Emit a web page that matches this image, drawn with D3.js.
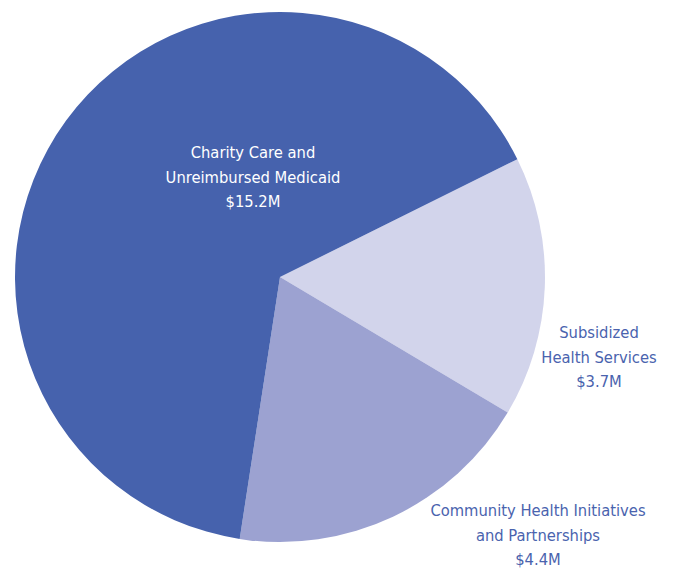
<!DOCTYPE html>
<html>
<head>
<meta charset="utf-8">
<script src="https://cdn.jsdelivr.net/npm/d3@7"></script>
<style>
  html, body { margin: 0; padding: 0; background: #fff; }
  svg { display: block; }
  .lbl { font-family: "Liberation Sans Narrow", "DejaVu Sans Condensed", "Roboto", sans-serif; font-size: 16.4px; }
</style>
</head>
<body>
<svg id="chart"></svg>
<script>
// Community benefit spending, millions of dollars
const categories = ['Subsidized Health Services', 'Community Health Initiatives and Partnerships', 'Charity Care and Unreimbursed Medicaid'];
const values = [3.7, 4.4, 15.2];
const labelLines = [
    ['Subsidized', 'Health Services'],
    ['Community Health Initiatives', 'and Partnerships'],
    ['Charity Care and', 'Unreimbursed Medicaid']
];
const valueLabels = ['$3.7M', '$4.4M', '$15.2M'];

const width = 673, height = 568;
const cx = 280, cy = 277, radius = 265;

const sliceColors = ['#d2d4eb', '#9ca2d1', '#4662ad'];
const textColors = ['#4a63ae', '#4a63ae', '#ffffff'];
// where each label block is centred (first baseline), relative to the pie centre
const labelPos = [[319, 61], [258, 239], [-27, -119]];

const svg = d3.select('#chart')
    .attr('width', width)
    .attr('height', height);

const g = svg.append('g')
    .attr('transform', `translate(${cx}, ${cy})`);

const data = categories.map((c, i) => ({ name: c, value: values[i], i: i }));

// first slice begins at about 63 degrees clockwise from 12 o'clock
const start = 63.6 * Math.PI / 180;
const pie = d3.pie()
    .sort(null)
    .value(d => d.value)
    .startAngle(start)
    .endAngle(start + 2 * Math.PI);

const arc = d3.arc()
    .innerRadius(0)
    .outerRadius(radius);

g.selectAll('path')
    .data(pie(data))
    .enter()
    .append('path')
    .attr('d', arc)
    .style('fill', d => sliceColors[d.data.i]);

// labels
data.forEach(d => {
    const lines = labelLines[d.i].concat([valueLabels[d.i]]);
    const t = g.append('text')
        .attr('class', 'lbl')
        .attr('text-anchor', 'middle')
        .style('fill', textColors[d.i]);
    lines.forEach((line, k) => {
        t.append('tspan')
            .attr('x', labelPos[d.i][0])
            .attr('y', labelPos[d.i][1] + k * 24.5)
            .text(line);
    });
});
</script>
</body>
</html>
